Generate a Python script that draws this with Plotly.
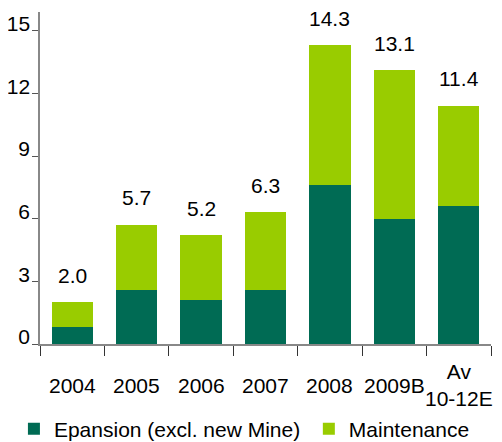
import plotly.graph_objects as go

# data
categories = ["2004", "2005", "2006", "2007", "2008", "2009B", "Av<br>10-12E"]
expansion = [0.8, 2.6, 2.1, 2.6, 7.6, 6.0, 6.6]
maintenance = [1.2, 3.1, 3.1, 3.7, 6.7, 7.1, 4.8]
totals = [2.0, 5.7, 5.2, 6.3, 14.3, 13.1, 11.4]
y_ticks = [0, 3, 6, 9, 12, 15]

DARK = "#006B54"
LIGHT = "#99CC00"
FONT = "Liberation Sans, Arial, sans-serif"
FS = 21

fig = go.Figure()
fig.add_trace(go.Bar(x=categories, y=expansion, name="Epansion (excl. new Mine)",
                     marker=dict(color=DARK, line=dict(width=0)),
                     legend="legend", showlegend=True))
fig.add_trace(go.Bar(x=categories, y=maintenance, name="Maintenance",
                     marker=dict(color=LIGHT, line=dict(width=0)),
                     legend="legend2", showlegend=True))

# total labels above each stack (category index, since labels look numeric)
for i, tot in enumerate(totals):
    fig.add_annotation(x=i, y=tot, text=f"{tot:.1f}", showarrow=False,
                       yanchor="middle", yshift=27,
                       font=dict(size=FS, color="black", family=FONT))

# category labels below the axis, vertically centred
for i, cat in enumerate(categories):
    fig.add_annotation(x=i, y=0, yref="y", text=cat, showarrow=False,
                       yanchor="middle", yshift=-41,
                       font=dict(size=FS, color="black", family=FONT))

legend_style = dict(orientation="h", xref="container", xanchor="left",
                    yref="container", yanchor="middle", y=0.03,
                    font=dict(size=FS, color="black"))

# page body keeps an 8px margin, so the figure is sized to the visible area
fig.update_layout(
    barmode="stack",
    bargap=0.36,
    width=494, height=434,
    showlegend=True,
    margin=dict(l=32, r=11, t=4, b=98, autoexpand=False),
    plot_bgcolor="white", paper_bgcolor="white",
    font=dict(family=FONT, size=FS, color="black"),
    legend=dict(x=0.012, **legend_style),
    legend2=dict(x=0.609, **legend_style),
    xaxis=dict(type="category", range=[-0.5, 6.5], showticklabels=False,
               tickson="boundaries", ticks="outside", ticklen=10,
               tickcolor="#333", showline=True, linecolor="#888",
               linewidth=1.5, showgrid=False, zeroline=False),
    yaxis=dict(range=[0, 15.9], tickvals=y_ticks, ticks="outside", ticklen=6,
               tickcolor="#555", showline=True, linecolor="#888", linewidth=1.5,
               showgrid=False, zeroline=False, ticklabelstandoff=-2,
               ticklabelshift=-7, tickfont=dict(size=FS, color="black")),
)

fig.write_html("out.html")
